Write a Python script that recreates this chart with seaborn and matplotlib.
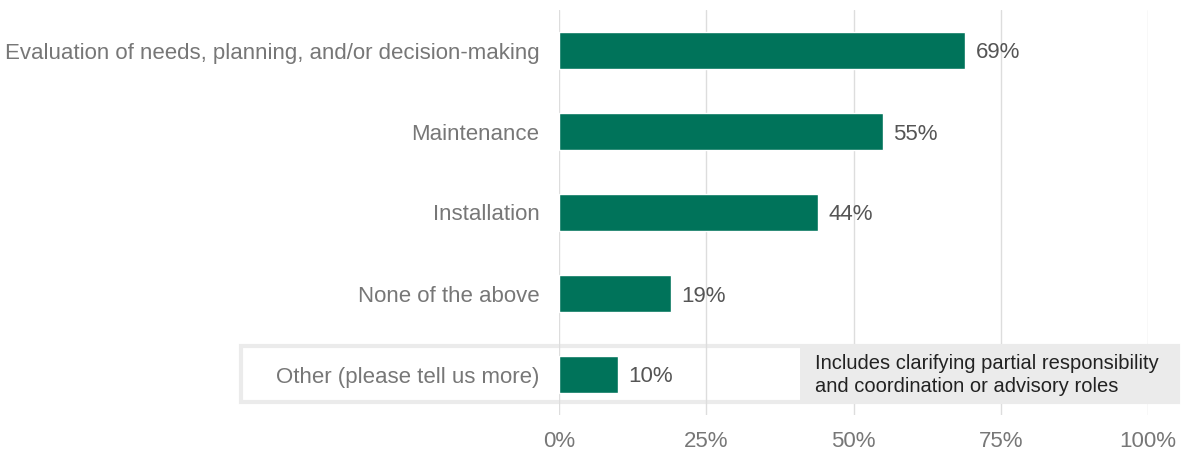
import seaborn as sns
import numpy as np
import pandas as pd
import matplotlib.pyplot as plt
from matplotlib.patches import Rectangle

categorias = ['Evaluation of needs, planning, and/or decision-making', 'Maintenance',
              'Installation', 'None of the above', 'Other (please tell us more)']
valores = [69, 55, 44, 19, 10]
ticks = [0, 25, 50, 75, 100]
nota = 'Includes clarifying partial responsibility\nand coordination or advisory roles'

df = pd.DataFrame({'cat': categorias, 'val': valores})

sns.set_style('white')
plt.rcParams['font.family'] = ['Liberation Sans', 'DejaVu Sans']

W, H = 1182, 450
fig = plt.figure(figsize=(W / 100, H / 100), dpi=100)
fig.patch.set_facecolor('white')

ax = fig.add_axes([559 / W, 1 - 415 / H, 589 / W, 405 / H])

sns.barplot(data=df, x='val', y='cat', color='#00735a', width=0.45, ax=ax, saturation=1)

ax.set_xlim(0, 100)
ax.set_ylim(4.5, -0.5)
ax.set_xticks(ticks)
ax.set_xticklabels([f'{t}%' for t in ticks])
ax.xaxis.grid(True, color='#dddddd', linewidth=1)
ax.set_axisbelow(True)
for s in ax.spines.values():
    s.set_visible(False)
ax.tick_params(axis='x', length=0, pad=11.5, labelsize=16, colors='#777777')
ax.tick_params(axis='y', length=0, pad=14, labelsize=16, colors='#777777')
ax.set_xlabel('')
ax.set_ylabel('')

# highlight box behind "Other" row (figure pixels -> figure fraction)
ax.add_patch(Rectangle((241 / W, 1 - 402 / H), 937 / W, 56 / H, transform=fig.transFigure,
                       facecolor='white', edgecolor='#ebebeb', linewidth=3, zorder=0.3,
                       clip_on=False))
ax.add_patch(Rectangle((800 / W, 1 - 404 / H), 380 / W, 60 / H, transform=fig.transFigure,
                       facecolor='#ebebeb', edgecolor='none', zorder=0.8, clip_on=False))

for i, v in enumerate(valores):
    ax.text(v + 1.8, i, f'{v}%', va='center_baseline', ha='left', fontsize=16, color='#555555')

ax.text(815 / W, 1 - 375 / H, nota, transform=fig.transFigure, ha='left', va='center',
        fontsize=14.5, color='#222222', linespacing=1.32, zorder=3)

fig.savefig('out.png', dpi=100)
